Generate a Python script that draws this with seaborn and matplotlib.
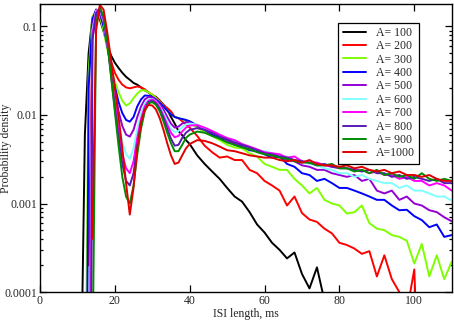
import numpy as np
import pandas as pd
import matplotlib
matplotlib.use("Agg")
import matplotlib.pyplot as plt
import seaborn as sns
from matplotlib.ticker import FixedLocator, FuncFormatter, LogLocator, NullFormatter

N = np.nan

# ISI bins (ms): 1 ms up to 40, then 2 ms
isi = list(range(10, 41)) + list(range(42, 111, 2))

amplitudes = ["A= 100", "A= 200", "A= 300", "A= 400", "A= 500",
              "A= 600", "A= 700", "A= 800", "A= 900", "A=1000"]

# grace-like colours
colors = ["#000000", "#ff0000", "#7fff00", "#0000ff", "#9400d3",
          "#7fffff", "#ff00ff", "#5a1ab4", "#008b00", "#e00000"]

a100 = [N, 1e-5, 0.006, 0.05, 0.125, 0.138, 0.12, 0.088, 0.062, 0.047,
        0.039, 0.034, 0.030, 0.027, 0.025, 0.023, 0.022, 0.0205, 0.019, 0.018,
        0.0165, 0.016, 0.0145, 0.013, 0.0115, 0.0095, 0.008, 0.0066, 0.0059, 0.0052,
        0.0047,
        0.0035, 0.0028, 0.0023, 0.0019, 0.0015, 0.0012, 0.00105, 0.0008, 0.00058, 0.00047,
        0.00036, 0.0003, 0.00024, 0.00028, 0.00016, 0.00011, 0.00019, 0.00008, 1e-6, N,
        N, N, N, N, N, N, N, N, N, N,
        N, N, N, N, N]
a200 = [N, N, N, 0.0002, 0.07, 0.145, 0.14, 0.10, 0.06, 0.04,
        0.03, 0.025, 0.022, 0.0205, 0.020, 0.0205, 0.021, 0.0205, 0.0195, 0.018,
        0.017, 0.0158, 0.0145, 0.013, 0.012, 0.011, 0.0095, 0.0092, 0.0085, 0.0078,
        0.0072,
        0.0058, 0.0045, 0.0038, 0.0033, 0.0034, 0.0031, 0.0031, 0.0024, 0.0022, 0.0018,
        0.0016, 0.0014, 0.00095, 0.0012, 0.00078, 0.00066, 0.00062, 0.00052, 0.00046, 0.00036,
        0.00034, 0.00031, 0.00027, 0.00029, 0.00015, 0.00026, 0.00014, 0.0001, 6e-5, 0.00018,
        1e-6, N, N, N, N]
a300 = [N, N, 1e-6, 0.03, 0.13, 0.15, 0.13, 0.09, 0.055, 0.035,
        0.024, 0.018, 0.0145, 0.0128, 0.0135, 0.0155, 0.0175, 0.019, 0.019, 0.018,
        0.017, 0.0155, 0.014, 0.0125, 0.0112, 0.0102, 0.0095, 0.0093, 0.009, 0.0086,
        0.0081,
        0.0072, 0.0064, 0.0058, 0.0052, 0.0046, 0.0043, 0.0042, 0.0037, 0.0034, 0.0028,
        0.0026, 0.0024, 0.0024, 0.0019, 0.0016, 0.0013, 0.0015, 0.0011, 0.001, 0.00095,
        0.00077, 0.0008, 0.00095, 0.0006, 0.00052, 0.0005, 0.00044, 0.00042, 0.00038, 0.00021,
        0.00035, 0.00015, 0.00026, 0.00014, 0.00022]
a400 = [N, N, 1e-9, 0.02, 0.12, 0.155, 0.14, 0.10, 0.06, 0.035,
        0.021, 0.014, 0.0105, 0.0088, 0.0084, 0.0095, 0.0125, 0.015, 0.0166, 0.0165,
        0.016, 0.015, 0.0138, 0.0125, 0.0112, 0.0102, 0.0095, 0.0092, 0.009, 0.0088,
        0.0085,
        0.0076, 0.0068, 0.006, 0.0055, 0.0052, 0.0046, 0.0044, 0.004, 0.0039, 0.0036,
        0.0033, 0.0034, 0.0028, 0.0026, 0.0022, 0.0021, 0.0018, 0.0019, 0.0017, 0.0015,
        0.0015, 0.0014, 0.0013, 0.0012, 0.0011, 0.0011, 0.00095, 0.00084, 0.00085, 0.00072,
        0.00065, 0.00054, 0.00058, 0.00042, 0.00044]
a500 = [N, N, N, 1e-6, 0.10, 0.155, 0.145, 0.11, 0.065, 0.035,
        0.019, 0.011, 0.0075, 0.006, 0.0057, 0.0068, 0.0095, 0.0125, 0.015, 0.016,
        0.0158, 0.0148, 0.0132, 0.0115, 0.0095, 0.008, 0.0072, 0.0074, 0.008, 0.0083,
        0.0082,
        0.0076, 0.0068, 0.0062, 0.0058, 0.0052, 0.0048, 0.0045, 0.0042, 0.004, 0.0037,
        0.0035, 0.0034, 0.0031, 0.003, 0.0027, 0.0026, 0.0024, 0.0024, 0.0022, 0.0021,
        0.002, 0.0021, 0.0018, 0.0019, 0.0014, 0.0013, 0.0014, 0.0011, 0.0012, 0.001,
        0.00095, 0.00084, 0.0008, 0.0007, 0.00063]
a600 = [N, N, N, 1e-7, 0.09, 0.15, 0.155, 0.115, 0.065, 0.033,
        0.016, 0.0085, 0.005, 0.0036, 0.0032, 0.0042, 0.007, 0.0105, 0.0135, 0.015,
        0.0152, 0.0142, 0.0125, 0.0105, 0.0085, 0.007, 0.0064, 0.0066, 0.0073, 0.0078,
        0.008,
        0.0078, 0.0071, 0.0064, 0.006, 0.0054, 0.005, 0.0047, 0.0043, 0.004, 0.0039,
        0.0037, 0.0035, 0.0034, 0.0031, 0.003, 0.0028, 0.0027, 0.0025, 0.0024, 0.0022,
        0.0022, 0.002, 0.0021, 0.0019, 0.0018, 0.0017, 0.0017, 0.0015, 0.0016, 0.0014,
        0.0014, 0.0013, 0.0012, 0.0012, 0.00108]
a700 = [N, N, N, 1e-9, 0.08, 0.145, 0.16, 0.12, 0.065, 0.03,
        0.014, 0.0068, 0.0036, 0.0025, 0.0022, 0.003, 0.0055, 0.009, 0.0125, 0.0145,
        0.015, 0.014, 0.0122, 0.0098, 0.0078, 0.0063, 0.0056, 0.0058, 0.0065, 0.0072,
        0.0076,
        0.0077, 0.0072, 0.0066, 0.006, 0.0055, 0.0052, 0.0047, 0.0044, 0.0041, 0.0038,
        0.0037, 0.0036, 0.0033, 0.0034, 0.003, 0.0029, 0.0029, 0.0027, 0.0026, 0.0026,
        0.0025, 0.0024, 0.0024, 0.0022, 0.0023, 0.0021, 0.0021, 0.0019, 0.002, 0.0018,
        0.0018, 0.0016, 0.0017, 0.0016, 0.0014]
a800 = [N, N, N, 1e-12, 0.07, 0.14, 0.16, 0.125, 0.066, 0.028,
        0.012, 0.0055, 0.0028, 0.0018, 0.0016, 0.0022, 0.0045, 0.008, 0.0115, 0.014,
        0.0145, 0.0135, 0.0115, 0.0092, 0.007, 0.0054, 0.0045, 0.0046, 0.0055, 0.0063,
        0.0068,
        0.0071, 0.0068, 0.0063, 0.0057, 0.0053, 0.0049, 0.0046, 0.0043, 0.004, 0.0037,
        0.0036, 0.0034, 0.0033, 0.0031, 0.003, 0.0029, 0.0027, 0.0028, 0.0026, 0.0025,
        0.0025, 0.0024, 0.0023, 0.0024, 0.0022, 0.0022, 0.002, 0.0021, 0.0019, 0.002,
        0.0019, 0.0018, 0.0019, 0.0017, 0.0017]
a900 = [N, N, N, N, 1e-5, 0.11, 0.165, 0.13, 0.068, 0.027,
        0.011, 0.0045, 0.002, 0.0012, 0.001, 0.0016, 0.0036, 0.007, 0.011, 0.0135,
        0.014, 0.013, 0.011, 0.0085, 0.0063, 0.0048, 0.0039, 0.0039, 0.0046, 0.0055,
        0.006,
        0.0065, 0.0063, 0.0058, 0.0054, 0.0049, 0.0046, 0.0043, 0.0041, 0.0038, 0.0036,
        0.0035, 0.0033, 0.0032, 0.003, 0.0029, 0.0029, 0.0027, 0.0027, 0.0028, 0.0025,
        0.0025, 0.0023, 0.0024, 0.0022, 0.0024, 0.0021, 0.0022, 0.002, 0.0021, 0.0019,
        0.0022, 0.0019, 0.0018, 0.0019, 0.0018]
a1000 = [N, N, N, N, 0.0004, 0.09, 0.175, 0.155, 0.085, 0.042,
         0.02, 0.0095, 0.0042, 0.0017, 0.00075, 0.0015, 0.0042, 0.0082, 0.0115, 0.013,
         0.0128, 0.0115, 0.0092, 0.0068, 0.0048, 0.0035, 0.0028, 0.0029, 0.0035, 0.0042,
         0.0047,
         0.0052, 0.0051, 0.0048, 0.0044, 0.004, 0.0039, 0.0037, 0.0035, 0.0034, 0.0033,
         0.0033, 0.0031, 0.003, 0.0031, 0.0029, 0.0031, 0.0028, 0.0027, 0.0027, 0.0026,
         0.0027, 0.0025, 0.0026, 0.0024, 0.0023, 0.0024, 0.0022, 0.0023, 0.0021, 0.0021,
         0.002, 0.0021, 0.0019, 0.0018, 0.0018]

series = [a100, a200, a300, a400, a500, a600, a700, a800, a900, a1000]

frames = []
for label, vals in zip(amplitudes, series):
    frames.append(pd.DataFrame({"isi": isi, "density": vals, "A": label}))
df = pd.concat(frames, ignore_index=True).dropna()

sns.set_style("ticks")
plt.rcParams["font.family"] = ["Liberation Serif", "DejaVu Serif"]
plt.rcParams["font.size"] = 8.5

fig, ax = plt.subplots(figsize=(4.54, 3.22), dpi=100)
fig.subplots_adjust(left=0.088, right=0.995, bottom=0.093, top=0.988)

ax.set_yscale("log")
sns.lineplot(data=df, x="isi", y="density", hue="A", hue_order=amplitudes,
             palette=colors, estimator=None, sort=False, linewidth=1.4, ax=ax)

ax.set_xlim(0, 110)
ax.set_ylim(1e-4, 0.18)
ax.xaxis.set_major_locator(FixedLocator([0, 20, 40, 60, 80, 100]))
ax.yaxis.set_major_locator(LogLocator(base=10))
ax.yaxis.set_minor_locator(LogLocator(base=10, subs=np.arange(2, 10)))
ax.yaxis.set_major_formatter(FuncFormatter(lambda v, p: f"{v:g}"))
ax.yaxis.set_minor_formatter(NullFormatter())

ax.tick_params(which="both", direction="in", top=True, right=True,
               labelsize=8.5, color="black", width=0.9)
ax.tick_params(which="major", length=5, pad=2)
ax.tick_params(which="minor", length=2.5)
for s in ax.spines.values():
    s.set_linewidth(1.0)
    s.set_color("black")

ax.set_xlabel("ISI length, ms", fontsize=8.5, labelpad=1)
ax.set_ylabel("Probability density", fontsize=8.5)
ax.yaxis.set_label_coords(-0.068, 0.5)

handles, labels = ax.get_legend_handles_labels()
leg = ax.legend(handles, labels, loc="upper right", bbox_to_anchor=(0.92, 0.935),
                borderaxespad=0, frameon=True, fancybox=False, fontsize=8.5,
                handlelength=2.0, handletextpad=0.8, labelspacing=0.12,
                borderpad=0.35)
leg.get_frame().set_edgecolor("black")
leg.get_frame().set_linewidth(0.9)
leg.get_frame().set_alpha(1)

fig.savefig("out.png", dpi=100)
